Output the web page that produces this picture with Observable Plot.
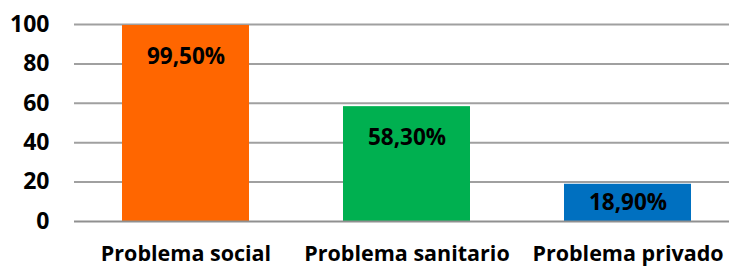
<!DOCTYPE html>
<html><head><meta charset="utf-8">
<script src="https://cdn.jsdelivr.net/npm/d3@7"></script>
<script src="https://cdn.jsdelivr.net/npm/@observablehq/plot@0.6"></script>
<style>
html,body{margin:0;padding:0;background:#fff;overflow:hidden;}
</style>
</head><body>
<div id="chart"></div>
<script>
const categories = ["Problema social", "Problema sanitario", "Problema privado"];
const values = [99.5, 58.3, 18.9];
const labels = ["99,50%", "58,30%", "18,90%"];
const colors = ["#FF6600", "#00B050", "#0070C0"];
const yTicks = [0, 20, 40, 60, 80, 100];

const data = categories.map((c, i) => ({cat: c, value: values[i], label: labels[i], color: colors[i]}));
const font = "'Open Sans', sans-serif";

const chart = Plot.plot({
  width: 729,
  height: 266,
  marginLeft: 74,
  marginRight: 0,
  marginTop: 24,
  marginBottom: 45,
  style: {fontFamily: font, fontWeight: "bold", color: "#000", background: "#fff"},
  x: {domain: categories, range: [75, 738], paddingInner: 0.425, paddingOuter: 0.2125, label: null},
  y: {domain: [0, 100], label: null},
  marks: [
    Plot.ruleY(yTicks.filter(t => t > 0), {stroke: "#a0a0a0", strokeWidth: 2, strokeOpacity: 1}),
    Plot.barY(data, {x: "cat", y: "value", fill: "color"}),
    Plot.ruleY([0], {stroke: "#909090", strokeWidth: 2}),
    Plot.ruleX([0], {x: () => null, frameAnchor: "left", stroke: "#909090", strokeWidth: 2}),
    Plot.text(data, {x: "cat", y: d => Math.max(d.value - 15.8, d.value / 2), text: "label", fontSize: 22.5, fontWeight: "bold", fill: "#000", fontFamily: font}),
    Plot.axisY({ticks: yTicks, tickSize: 0, tickPadding: 25, fontSize: 23, fontWeight: "bold", label: null}),
    Plot.axisX({tickSize: 0, tickPadding: 24, fontSize: 21.5, fontWeight: "bold", label: null})
  ]
});
document.getElementById("chart").appendChild(chart);
</script>
</body></html>
